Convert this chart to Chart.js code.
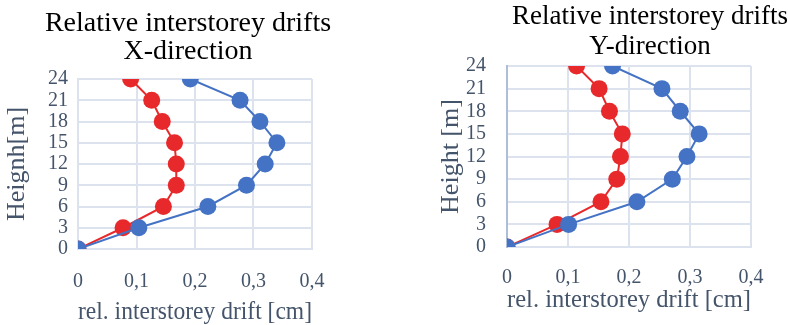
<!DOCTYPE html>
<html>
<head>
<meta charset="utf-8">
<script src="https://cdn.jsdelivr.net/npm/chart.js@4"></script>
<style>
  html, body { margin: 0; padding: 0; background: #fff; overflow: hidden; width: 788px; height: 325px; }
  .box { position: absolute; top: 0; width: 394px; height: 325px; }
</style>
</head>
<body>
<div class="box" style="left:0"><canvas id="chartX"></canvas></div>
<div class="box" style="left:394px"><canvas id="chartY"></canvas></div>
<script>
// heights of storeys [m]
const heights = [0, 3, 6, 9, 12, 15, 18, 21, 24];

// X-direction drifts [cm]
const driftXBlue = [0, 0.104, 0.222, 0.288, 0.320, 0.340, 0.311, 0.277, 0.192];
const driftXRed  = [0, 0.077, 0.146, 0.168, 0.168, 0.165, 0.144, 0.126, 0.090];

// Y-direction drifts [cm]
const driftYBlue = [0, 0.101, 0.213, 0.271, 0.295, 0.315, 0.284, 0.254, 0.173];
const driftYRed  = [0, 0.082, 0.154, 0.180, 0.186, 0.189, 0.168, 0.151, 0.114];

const xTickLabels = ["0", "0,1", "0,2", "0,3", "0,4"];
const yTickLabels = ["0", "3", "6", "9", "12", "15", "18", "21", "24"];

const BLUE = "#4472C4";
const RED = "#E8292B";
const GRID = "#DCE3EE";
const TEXT = "#44546A";
const FONT = "'Liberation Serif', 'Times New Roman', serif";

// Título centrado num ponto fixo (o título do Chart.js centra-se na área toda)
const centerTitle = {
  id: "centerTitle",
  afterDraw(chart, args, opts) {
    const ctx = chart.ctx;
    ctx.save();
    ctx.fillStyle = "#000";
    ctx.font = opts.size + "px " + FONT;
    ctx.textAlign = "center";
    ctx.textBaseline = "middle";
    opts.lines.forEach((line, i) => {
      ctx.fillText(line, opts.x, opts.y + i * opts.gap);
    });
    ctx.restore();
  }
};

function toPoints(drifts) {
  return drifts.map((d, i) => ({ x: d, y: heights[i] }));
}

function makeDataset(drifts, color) {
  return {
    data: toPoints(drifts),
    showLine: true,
    borderColor: color,
    backgroundColor: color,
    borderWidth: 2,
    pointRadius: 8.5,
    pointBorderWidth: 0,
    pointHoverRadius: 8.5
  };
}

// Função para criar um gráfico de deriva
function renderDriftChart(id, cfg) {
  const ctx = document.getElementById(id);
  return new Chart(ctx, {
    type: "scatter",
    data: {
      datasets: [makeDataset(cfg.blue, BLUE), makeDataset(cfg.red, RED)]
    },
    plugins: [centerTitle],
    options: {
      responsive: true,
      maintainAspectRatio: false,
      animation: false,
      layout: { padding: cfg.padding },
      plugins: {
        legend: { display: false },
        tooltip: { enabled: false },
        centerTitle: cfg.title
      },
      scales: {
        x: {
          type: "linear",
          min: 0,
          max: 0.4,
          ticks: {
            stepSize: 0.1,
            autoSkip: false,
            maxRotation: 0,
            color: TEXT,
            padding: cfg.xTickPad,
            font: { family: FONT, size: 20, lineHeight: 1.2 },
            callback: (v, i) => xTickLabels[i]
          },
          grid: { color: GRID, lineWidth: 2, drawTicks: false },
          border: { color: GRID, width: 2 },
          title: {
            display: true,
            text: "rel. interstorey drift [cm]",
            color: TEXT,
            font: { family: FONT, size: 26, lineHeight: 1 },
            padding: cfg.xTitlePad
          }
        },
        y: {
          type: "linear",
          min: 0,
          max: 24,
          ticks: {
            stepSize: 3,
            autoSkip: false,
            color: TEXT,
            padding: cfg.yTickPad,
            font: { family: FONT, size: 20, lineHeight: 1.2 },
            callback: (v, i) => yTickLabels[i]
          },
          grid: { color: GRID, lineWidth: 2, drawTicks: false },
          border: { color: cfg.yBorder, width: 2 },
          title: {
            display: true,
            text: cfg.yTitle,
            color: TEXT,
            font: { family: FONT, size: 26, lineHeight: 1 },
            padding: cfg.yTitlePad
          }
        }
      }
    }
  });
}

renderDriftChart("chartX", {
  title: { lines: ["Relative interstorey drifts", "X-direction"], size: 28, x: 188, y: 24, gap: 28 },
  blue: driftXBlue,
  red: driftXRed,
  yTitle: "Heignh[m]",
  yBorder: GRID,
  padding: { left: 4, right: 82, top: 79, bottom: 0 },
  xTickPad: 21,
  xTitlePad: { top: -16, bottom: 0 },
  yTickPad: 10,
  yTitlePad: { top: 0, bottom: 8 }
});

renderDriftChart("chartY", {
  title: { lines: ["Relative interstorey drifts", "Y-direction"], size: 27, x: 256, y: 17, gap: 30 },
  blue: driftYBlue,
  red: driftYRed,
  yTitle: "Height [m]",
  yBorder: "#AEBDD8",
  padding: { left: 44, right: 37, top: 66, bottom: 12 },
  xTickPad: 19,
  xTitlePad: { top: -22, bottom: 0 },
  yTickPad: 21,
  yTitlePad: { top: 0, bottom: -19 }
});
</script>
</body>
</html>
